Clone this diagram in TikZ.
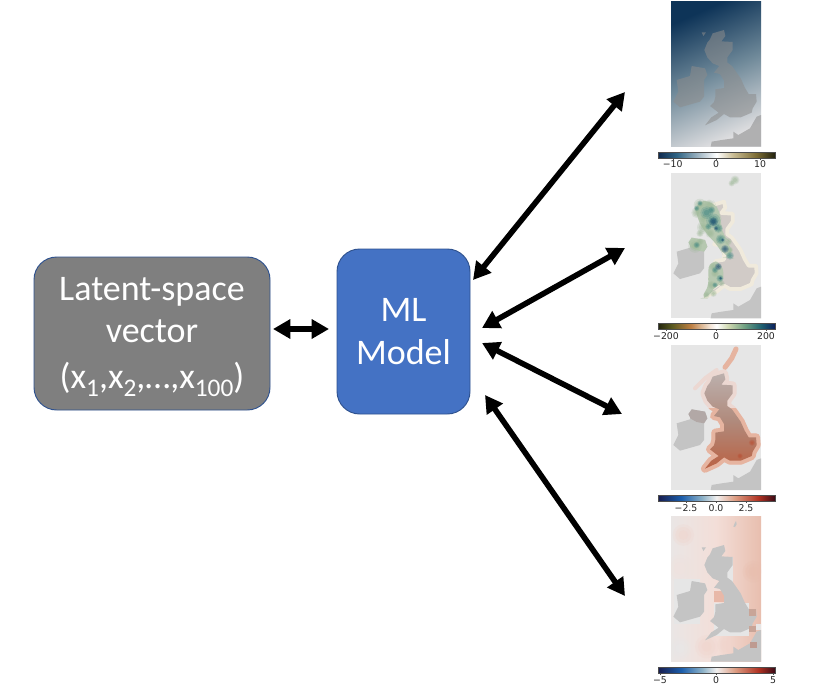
\documentclass[tikz,border=0pt]{standalone}
\usepackage{fontspec}
\setmainfont{Carlito}
\newfontfamily\tickfont{DejaVu Sans}
\usetikzlibrary{arrows.meta}
\definecolor{boxgrey}{HTML}{7F7F7F}
\definecolor{boxblue}{HTML}{4472C4}
\definecolor{boxedge}{HTML}{2F528F}
\definecolor{panelbg}{HTML}{E6E6E6}
\definecolor{landgrey}{HTML}{C4C4C4}
\definecolor{tealb}{HTML}{3A8480}
\definecolor{sage}{HTML}{9DB898}
\definecolor{navyb}{HTML}{14456E}
\definecolor{pa}{RGB}{14,52,88}\definecolor{pb}{RGB}{112,138,154}\definecolor{pc}{RGB}{222,222,224}
\definecolor{pl}{RGB}{140,140,140}
\definecolor{qa}{RGB}{240,234,220}\definecolor{qb}{RGB}{209,203,199}\definecolor{qc}{RGB}{182,200,176}
\definecolor{ra}{RGB}{230,180,160}\definecolor{rb}{RGB}{236,216,210}\definecolor{rc}{RGB}{188,176,173}\definecolor{rd}{RGB}{186,98,68}\definecolor{re}{RGB}{176,138,124}\definecolor{rg}{RGB}{186,78,50}\definecolor{rh}{RGB}{178,168,166}
\definecolor{sa}{RGB}{234,230,229}\definecolor{sb}{RGB}{232,190,174}\definecolor{sc}{RGB}{243,222,216}\definecolor{sd}{RGB}{232,232,232}\definecolor{se}{RGB}{240,226,222}\definecolor{sf}{RGB}{232,184,168}\definecolor{sg}{RGB}{200,165,152}\definecolor{sh}{RGB}{190,155,145}\definecolor{si}{RGB}{240,212,204}
\definecolor{a0}{HTML}{0F2A4E}\definecolor{a1}{HTML}{2F6484}\definecolor{a2}{HTML}{A9BCC8}\definecolor{a3}{HTML}{FFFFFF}\definecolor{a4}{HTML}{C9BC94}\definecolor{a5}{HTML}{7C6C34}\definecolor{a6}{HTML}{23230F}
\definecolor{b0}{HTML}{23260E}\definecolor{b1}{HTML}{5A5A20}\definecolor{b2}{HTML}{BD7E42}\definecolor{b3}{HTML}{F2E2D2}\definecolor{b4}{HTML}{FFFFFF}\definecolor{b5}{HTML}{CFD8B0}\definecolor{b6}{HTML}{6FA082}\definecolor{b7}{HTML}{1F6270}\definecolor{b8}{HTML}{0A1F5C}
\definecolor{c0}{HTML}{181C4E}\definecolor{c1}{HTML}{1B5EAC}\definecolor{c2}{HTML}{8DB2C8}\definecolor{c3}{HTML}{F2F0EF}\definecolor{c4}{HTML}{DC9C82}\definecolor{c5}{HTML}{B03222}\definecolor{c6}{HTML}{3C0A16}
\pgfdeclarehorizontalshading{cbA}{100bp}{color(0bp)=(a0);color(25bp)=(a0);color(33bp)=(a1);color(43bp)=(a2);color(50bp)=(a3);color(57bp)=(a4);color(67bp)=(a5);color(75bp)=(a6);color(100bp)=(a6)}
\pgfdeclarehorizontalshading{cbB}{100bp}{color(0bp)=(b0);color(25bp)=(b0);color(31bp)=(b1);color(39bp)=(b2);color(47bp)=(b3);color(50bp)=(b4);color(55bp)=(b5);color(62bp)=(b6);color(69bp)=(b7);color(75bp)=(b8);color(100bp)=(b8)}
\pgfdeclarehorizontalshading{cbC}{100bp}{color(0bp)=(c0);color(25bp)=(c0);color(35bp)=(c1);color(44bp)=(c2);color(50bp)=(c3);color(58bp)=(c4);color(68bp)=(c5);color(75bp)=(c6);color(100bp)=(c6)}
\tikzset{
  latentbox/.style={draw=boxedge,line width=.7pt,fill=boxgrey,rounded corners=17pt,text=white,align=center,inner sep=0pt,
    minimum width=177pt,minimum height=114.75pt,font=\fontsize{27}{32}\selectfont},
  modelbox/.style={latentbox,fill=boxblue,minimum width=99.75pt,minimum height=123.75pt},
  biarrow/.style={line width=4.2pt,{Triangle[length=13pt,width=14pt]}-{Triangle[length=13pt,width=14pt]}},
  cbframe/.style={draw=black!70,line width=.3pt},
  cbtick/.style={line width=.3pt,draw=black!70},
  ticklab/.style={font=\tickfont\fontsize{7}{8}\selectfont,inner sep=0pt,text=black!85},
  panelrect/.style={fill=panelbg}
}
\newcommand\subx[1]{\raisebox{-.22em}{\fontsize{19}{20}\selectfont #1}}
\def\landGB{(188,100)--(222,90)--(226,108)--(214,124)--(248,126)--(248,150)--(232,172)--(232,188)--(246,198)--(258,215)--(272,235)--(284,262)--(296,282)--(318,282)--(320,305)--(308,325)--(305,338)--(272,352)--(240,352)--(222,342)--(200,360)--(165,376)--(184,352)--(206,338)--(180,318)--(192,306)--(196,290)--(196,268)--(222,264)--(222,242)--(210,222)--(192,218)--(208,198)--(188,190)--(172,172)--(163,150)--(172,128)--(180,118)--cycle}
\def\landIE{(125,198)--(165,205)--(172,225)--(162,240)--(162,290)--(150,305)--(115,315)--(90,322)--(70,305)--(85,275)--(80,240)--(120,228)--cycle}
\def\landNI{(125,198)--(165,205)--(172,225)--(162,240)--(140,236)--(122,226)--(115,212)--cycle}
\def\landFR{(333,345)--(333,440)--(182,440)--(185,425)--(215,420)--(250,415)--(250,395)--(265,405)--(300,385)--(320,350)--cycle}
\def\landHB{(155,97)--(168,97)--(160,108)--cycle}
\def\landSH{(250,35)--(254,25)--(258,18)--(260,28)--(255,36)--cycle}
\def\panelR{(63,5) rectangle (333,440)}
\newcommand\blob[4]{\fill[#4,opacity=.22] (#1,#2) circle[radius=#3*1.35];\fill[#4,opacity=.3] (#1,#2) circle[radius=#3];\fill[#4,opacity=.35] (#1,#2) circle[radius=#3*.6];}
\begin{document}
\begin{tikzpicture}[x=.75pt,y=-.75pt]
\useasboundingbox[fill=white] (0,0) rectangle (813,685);
% boxes
\node[latentbox] (latent) at (152,333.5) {\rule{0pt}{22.4pt}Latent-space\\vector\\[2.5pt](x\subx{1},x\subx{2},…,x\subx{100})};
\node[modelbox] (model) at (403.5,331.5) {ML\\Model};
% connector ends
\coordinate (la) at (273,329);
\coordinate (mb) at (329,329);
\coordinate (m1) at (473,280);
\coordinate (p1) at (625,92);
\coordinate (m2) at (482,328);
\coordinate (p2) at (625,248);
\coordinate (m3) at (482,343);
\coordinate (p3) at (622,414);
\coordinate (m4) at (485,395);
\coordinate (p4) at (625,596);
\draw[biarrow] (la) -- (mb);
\draw[biarrow] (m1) -- (p1);
\draw[biarrow] (m2) -- (p2);
\draw[biarrow] (m3) -- (p3);
\draw[biarrow] (m4) -- (p4);
% panel 1
\begin{scope}[shift={(650,0)},x=.25pt,y=-.25pt]
  \shade[top color=pa,bottom color=pc,middle color=pb,shading angle=24] \panelR;
  \fill[pl,opacity=.55] \landGB \landIE;
  \fill[pl,opacity=.55] \landFR \landHB;
\end{scope}
\shade[shading=cbA,cbframe] (658,152) rectangle (775,158);
\foreach \tx/\tn/\tl in {672.7/a/−10,716/b/0,760/c/10}{
  \draw[cbtick] (\tx,158) -- (\tx,159.5);
  \node[ticklab] (tA\tn) at (\tx,164.5) {\tl};
}
% panel 2
\begin{scope}[shift={(650,171.67)},x=.25pt,y=-.25pt]
  \fill[panelrect] \panelR;
  \fill[landgrey] \landIE \landFR;
  \fill[qc] \landNI;
  \draw[qa,line width=2.8pt,line join=round,fill=qb] \landGB;
\end{scope}
\begin{scope}[shift={(650,170)},x=.25pt,y=-.25pt]
  \fill[qc,rounded corners=8pt] (135,95)--(190,90)--(205,120)--(215,150)--(215,200)--(240,215)--(250,265)--(222,262)--(205,225)--(165,190)--(135,130)--cycle;
  \fill[qc,rounded corners=6pt] (180,270)--(218,280)--(222,340)--(195,345)--(175,385)--(150,385)--(180,345)--(172,315)--cycle;
  \foreach \bx/\by/\br in {255/30/10,245/40/7,150/105/14,178/105/12,140/128/12,160/145/10,160/172/14,150/190/8,180/190/10,235/215/8,135/228/15,150/215/8,190/290/9,195/310/9,185/345/9,190/370/8,170/375/7,215/340/7,240/240/7}{
    \blob{\bx}{\by}{\br}{sage}
  }
  \foreach \bx/\by/\br in {150/100/6,170/128/14,190/152/16,205/175/10,212/208/11,240/257/9,210/325/8,195/300/7,140/115/6,185/120/8,175/170/7,195/345/6,140/225/7}{
    \blob{\bx}{\by}{\br}{tealb}
  }
  \foreach \bx/\by/\br in {190/155/10,198/175/5,225/237/9,205/290/8,212/325/4,218/210/4}{
    \blob{\bx}{\by}{\br}{navyb}
  }
\end{scope}
\shade[shading=cbB,cbframe] (658,323) rectangle (775,329);
\foreach \tx/\tl/\tn in {666/−200/a,716/0/b,766/200/c}{
  \draw[cbtick] (\tx,329) -- (\tx,330.5);
  \node[ticklab] (tB\tn) at (\tx,336) {\tl};
}
% panel 3
\begin{scope}[shift={(650,343.33)},x=.25pt,y=-.25pt]
  \fill[panelrect] \panelR;
  \fill[landgrey] \landIE \landFR;
  \fill[rh] \landNI;
  \draw[ra,line width=3.8pt,line join=round,line cap=round] (258,17)--(245,45)--(225,72);
  \draw[rb,line width=3pt,line join=round,line cap=round] (135,135)--(165,105)--(200,80);
  \draw[rb,line width=6pt,line join=round] \landGB;
  \begin{scope}
    \clip (63,195) rectangle (333,440);
    \draw[ra,line width=6pt,line join=round] \landGB;
  \end{scope}
  \shade[top color=rc,bottom color=rd,middle color=re] \landGB;
  \blob{306}{298}{7}{rg}
  \blob{270}{338}{6}{rg}
\end{scope}
\shade[shading=cbC,cbframe] (658,495) rectangle (775,501);
\foreach \tx/\tl/\tn in {686/−2.5/a,716/0.0/b,746/2.5/c}{
  \draw[cbtick] (\tx,501) -- (\tx,502.5);
  \node[ticklab] (tC\tn) at (\tx,508) {\tl};
}
% panel 4
\begin{scope}[shift={(650,515)},x=.25pt,y=-.25pt]
  \shade[left color=sa,right color=sb,middle color=sc] \panelR;
  \begin{scope}
    \clip \panelR;
    \blob{90}{400}{24}{sd}
    \blob{90}{160}{30}{se}
    \blob{100}{60}{24}{si}
    \blob{170}{395}{26}{si}
    \blob{230}{390}{20}{si}
    \blob{310}{170}{24}{sb}
  \end{scope}
  \fill[panelbg] (72,192) rectangle (150,326);
  \fill[panelbg] (212,125) rectangle (250,200);
  \fill[panelbg] (192,264) rectangle (296,364);
  \fill[panelbg] (255,264) rectangle (296,284);
  \fill[sf] (192,228) rectangle (233,262);
  \fill[landgrey] \landGB \landIE;
  \fill[landgrey] \landFR \landHB \landSH;
  \fill[sg] (296,283) rectangle (318,303);
  \fill[sg] (298,332) rectangle (318,352);
  \fill[sh] (300,380) rectangle (320,400);
  \fill[panelbg] (318,328) rectangle (333,345);
\end{scope}
\shade[shading=cbC,cbframe] (658,667) rectangle (775,673);
\foreach \tx/\tl/\tn in {660/−5/a,716/0/b,773/5/c}{
  \draw[cbtick] (\tx,673) -- (\tx,674.5);
  \node[ticklab] (tD\tn) at (\tx,680) {\tl};
}
\end{tikzpicture}
\end{document}
